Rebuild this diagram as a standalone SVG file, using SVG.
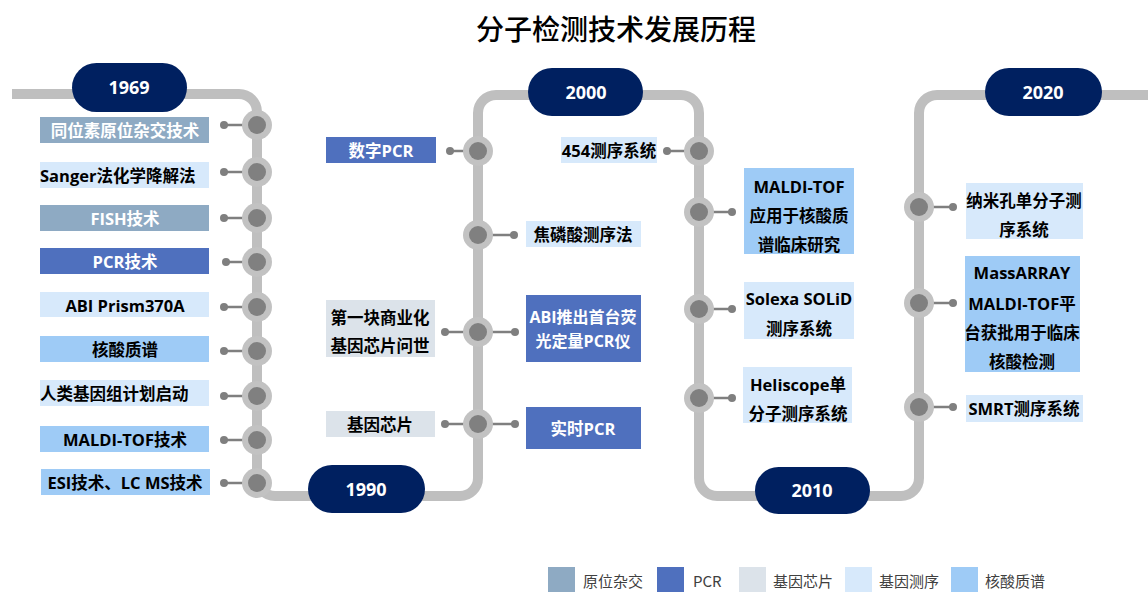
<svg xmlns="http://www.w3.org/2000/svg" width="1148" height="592" viewBox="0 0 1148 592">
<style>
.track{fill:none;stroke:#bfbfbf;stroke-width:10}
.ring{fill:#c2c2c2}
.hub{fill:#808080}
.link{stroke:#7f7f7f;stroke-width:2.5}
.dot{fill:#7f7f7f}
.pill{fill:#002060}
.yr{fill:#fff;font-family:"Open Sans","Noto Sans CJK SC",sans-serif;font-weight:bold;font-size:18px;text-anchor:middle;dominant-baseline:central}
.lbl{font-family:"Open Sans","Noto Sans CJK SC",sans-serif;font-weight:bold;font-size:16.5px;text-anchor:middle;dominant-baseline:central}
.tight{font-size:16px}
.st{text-anchor:start}
.w{fill:#fff}.k{fill:#000}
.c1{fill:#8eaac3}.c2{fill:#4f70be}.c3{fill:#dce3ea}.c4{fill:#d7e9fb}.c5{fill:#9ecbf6}
.leg{font-family:"Noto Sans CJK SC","Noto Sans",sans-serif;font-size:15px;fill:#404040;dominant-baseline:central}
.title{font-family:"Noto Sans CJK SC",sans-serif;font-weight:500;font-size:28px;text-anchor:middle;fill:#000}
</style>
<rect width="1148" height="592" fill="#fff"/>
<text class="title" x="616" y="40">分子检测技术发展历程</text>

<g id="track">
<path class="track" d="M12,94 H239 A18,18 0 0 1 257,112 V478 A18,18 0 0 0 275,496 H460 A18,18 0 0 0 478,478 V113 A18,18 0 0 1 496,95 H681 A18,18 0 0 1 699,113 V478 A18,18 0 0 0 717,496 H901 A18,18 0 0 0 919,478 V113 A18,18 0 0 1 937,95 H1148"/>
</g>

<g id="connectors">
<line class="link" x1="224" y1="125" x2="257" y2="125"/><circle class="dot" cx="224" cy="125" r="4"/>
<line class="link" x1="224" y1="172" x2="257" y2="172"/><circle class="dot" cx="224" cy="172" r="4"/>
<line class="link" x1="224" y1="218" x2="257" y2="218"/><circle class="dot" cx="224" cy="218" r="4"/>
<line class="link" x1="226" y1="262" x2="257" y2="262"/><circle class="dot" cx="226" cy="262" r="4"/>
<line class="link" x1="224" y1="307" x2="257" y2="307"/><circle class="dot" cx="224" cy="307" r="4"/>
<line class="link" x1="224" y1="351" x2="257" y2="351"/><circle class="dot" cx="224" cy="351" r="4"/>
<line class="link" x1="224" y1="396" x2="257" y2="396"/><circle class="dot" cx="224" cy="396" r="4"/>
<line class="link" x1="224" y1="440" x2="257" y2="440"/><circle class="dot" cx="224" cy="440" r="4"/>
<line class="link" x1="224" y1="483" x2="257" y2="483"/><circle class="dot" cx="224" cy="483" r="4"/>
<line class="link" x1="450" y1="151" x2="478" y2="151"/><circle class="dot" cx="450" cy="151" r="4"/>
<line class="link" x1="478" y1="235" x2="514" y2="235"/><circle class="dot" cx="514" cy="235" r="4"/>
<line class="link" x1="445" y1="332" x2="515" y2="332"/><circle class="dot" cx="445" cy="332" r="4"/><circle class="dot" cx="515" cy="332" r="4"/>
<line class="link" x1="445" y1="424" x2="515" y2="424"/><circle class="dot" cx="445" cy="424" r="4"/><circle class="dot" cx="515" cy="424" r="4"/>
<line class="link" x1="667" y1="151" x2="699" y2="151"/><circle class="dot" cx="667" cy="151" r="4"/>
<line class="link" x1="699" y1="212" x2="732" y2="212"/><circle class="dot" cx="732" cy="212" r="4"/>
<line class="link" x1="699" y1="309" x2="732" y2="309"/><circle class="dot" cx="732" cy="309" r="4"/>
<line class="link" x1="699" y1="398" x2="732" y2="398"/><circle class="dot" cx="732" cy="398" r="4"/>
<line class="link" x1="919" y1="207" x2="953" y2="207"/><circle class="dot" cx="953" cy="207" r="4"/>
<line class="link" x1="919" y1="303" x2="953" y2="303"/><circle class="dot" cx="953" cy="303" r="4"/>
<line class="link" x1="919" y1="407" x2="953" y2="407"/><circle class="dot" cx="953" cy="407" r="4"/>
</g>

<g id="stations">
<circle class="ring" cx="257" cy="125" r="15"/><circle class="hub" cx="257" cy="125" r="9"/>
<circle class="ring" cx="257" cy="172" r="15"/><circle class="hub" cx="257" cy="172" r="9"/>
<circle class="ring" cx="257" cy="218" r="15"/><circle class="hub" cx="257" cy="218" r="9"/>
<circle class="ring" cx="257" cy="262" r="15"/><circle class="hub" cx="257" cy="262" r="9"/>
<circle class="ring" cx="257" cy="307" r="15"/><circle class="hub" cx="257" cy="307" r="9"/>
<circle class="ring" cx="257" cy="351" r="15"/><circle class="hub" cx="257" cy="351" r="9"/>
<circle class="ring" cx="257" cy="396" r="15"/><circle class="hub" cx="257" cy="396" r="9"/>
<circle class="ring" cx="257" cy="440" r="15"/><circle class="hub" cx="257" cy="440" r="9"/>
<circle class="ring" cx="257" cy="483" r="15"/><circle class="hub" cx="257" cy="483" r="9"/>
<circle class="ring" cx="478" cy="151" r="15"/><circle class="hub" cx="478" cy="151" r="9"/>
<circle class="ring" cx="478" cy="235" r="15"/><circle class="hub" cx="478" cy="235" r="9"/>
<circle class="ring" cx="478" cy="332" r="15"/><circle class="hub" cx="478" cy="332" r="9"/>
<circle class="ring" cx="478" cy="424" r="15"/><circle class="hub" cx="478" cy="424" r="9"/>
<circle class="ring" cx="699" cy="151" r="15"/><circle class="hub" cx="699" cy="151" r="9"/>
<circle class="ring" cx="699" cy="212" r="15"/><circle class="hub" cx="699" cy="212" r="9"/>
<circle class="ring" cx="699" cy="309" r="15"/><circle class="hub" cx="699" cy="309" r="9"/>
<circle class="ring" cx="699" cy="398" r="15"/><circle class="hub" cx="699" cy="398" r="9"/>
<circle class="ring" cx="919" cy="207" r="15"/><circle class="hub" cx="919" cy="207" r="9"/>
<circle class="ring" cx="919" cy="303" r="15"/><circle class="hub" cx="919" cy="303" r="9"/>
<circle class="ring" cx="919" cy="407" r="15"/><circle class="hub" cx="919" cy="407" r="9"/>
</g>

<g id="y1969"><rect class="pill" x="72" y="63" width="115" height="49" rx="24.5"/><text class="yr" x="129" y="87">1969</text></g>
<g id="y1990"><rect class="pill" x="308" y="465" width="117" height="48" rx="24"/><text class="yr" x="366" y="489">1990</text></g>
<g id="y2000"><rect class="pill" x="528" y="68" width="115" height="48" rx="24"/><text class="yr" x="586" y="92">2000</text></g>
<g id="y2010"><rect class="pill" x="755" y="467" width="115" height="47" rx="23.5"/><text class="yr" x="812" y="490">2010</text></g>
<g id="y2020"><rect class="pill" x="985" y="68" width="117" height="48" rx="24"/><text class="yr" x="1043" y="92">2020</text></g>

<g id="n-isotope"><rect class="c1" x="40" y="117" width="169" height="26"/><text class="lbl w" x="125" y="130">同位素原位杂交技术</text></g>
<g id="n-sanger"><rect class="c4" x="40" y="162" width="169" height="26"/><text class="lbl k st" x="40" y="175">Sanger法化学降解法</text></g>
<g id="n-fish"><rect class="c1" x="40" y="205" width="169" height="26"/><text class="lbl w" x="125" y="218">FISH技术</text></g>
<g id="n-pcr"><rect class="c2" x="40" y="248" width="169" height="26"/><text class="lbl w" x="125" y="261">PCR技术</text></g>
<g id="n-abi370"><rect class="c4" x="40" y="292" width="169" height="25"/><text class="lbl k" x="125" y="305">ABI Prism370A</text></g>
<g id="n-ms"><rect class="c5" x="40" y="336" width="169" height="26"/><text class="lbl k" x="125" y="349">核酸质谱</text></g>
<g id="n-hgp"><rect class="c4" x="40" y="380" width="169" height="26"/><text class="lbl k st" x="40" y="393">人类基因组计划启动</text></g>
<g id="n-maldi"><rect class="c5" x="40" y="426" width="169" height="26"/><text class="lbl k" x="125" y="439">MALDI-TOF技术</text></g>
<g id="n-esi"><rect class="c5" x="41" y="469" width="169" height="26"/><text class="lbl k" x="125" y="482">ESI技术、LC MS技术</text></g>

<g id="n-dpcr"><rect class="c2" x="326" y="137" width="110" height="26"/><text class="lbl w" x="381" y="150">数字PCR</text></g>
<g id="n-pyro"><rect class="c4" x="526" y="221" width="115" height="26"/><text class="lbl k" x="583" y="234">焦磷酸测序法</text></g>
<g id="n-chip1"><rect class="c3" x="326" y="300" width="109" height="57"/><text class="lbl k" x="380" y="317">第一块商业化</text><text class="lbl k" x="380" y="345">基因芯片问世</text></g>
<g id="n-qpcr"><rect class="c2" x="526" y="295" width="115" height="67"/><text class="lbl tight w" x="583" y="317">ABI推出首台荧</text><text class="lbl tight w" x="583" y="341">光定量PCR仪</text></g>
<g id="n-chip"><rect class="c3" x="326" y="411" width="109" height="26"/><text class="lbl k" x="380" y="424">基因芯片</text></g>
<g id="n-rtpcr"><rect class="c2" x="526" y="407" width="115" height="42"/><text class="lbl w" x="583" y="428">实时PCR</text></g>

<g id="n-454"><rect class="c4" x="561" y="137" width="96" height="26"/><text class="lbl k" x="609" y="150">454测序系统</text></g>
<g id="n-maldi-clin"><rect class="c5" x="744" y="168" width="110" height="86"/><text class="lbl k" x="799" y="186">MALDI-TOF</text><text class="lbl k" x="799" y="215">应用于核酸质</text><text class="lbl k" x="799" y="244">谱临床研究</text></g>
<g id="n-solexa"><rect class="c4" x="744" y="282" width="110" height="57"/><text class="lbl k" x="799" y="298">Solexa SOLiD</text><text class="lbl k" x="799" y="328">测序系统</text></g>
<g id="n-heli"><rect class="c4" x="743" y="367" width="109" height="56"/><text class="lbl k" x="798" y="384">Heliscope单</text><text class="lbl k" x="798" y="413">分子测序系统</text></g>

<g id="n-nano"><rect class="c4" x="966" y="183" width="117" height="56"/><text class="lbl k" x="1024" y="200">纳米孔单分子测</text><text class="lbl k" x="1024" y="229">序系统</text></g>
<g id="n-massarray"><rect class="c5" x="965" y="256" width="115" height="116"/><text class="lbl k" x="1022" y="272">MassARRAY</text><text class="lbl k" x="1022" y="303">MALDI-TOF平</text><text class="lbl k" x="1022" y="332">台获批用于临床</text><text class="lbl k" x="1022" y="361">核酸检测</text></g>
<g id="n-smrt"><rect class="c4" x="966" y="395" width="117" height="27"/><text class="lbl k" x="1024" y="408">SMRT测序系统</text></g>

<g id="legend">
<rect class="c1" x="548" y="567" width="27" height="25"/><text class="leg" x="583" y="580">原位杂交</text>
<rect class="c2" x="657" y="567" width="27" height="25"/><text class="leg" x="693" y="580">PCR</text>
<rect class="c3" x="739" y="567" width="27" height="25"/><text class="leg" x="773" y="580">基因芯片</text>
<rect class="c4" x="845" y="567" width="27" height="25"/><text class="leg" x="879" y="580">基因测序</text>
<rect class="c5" x="951" y="567" width="27" height="25"/><text class="leg" x="985" y="580">核酸质谱</text>
</g>
</svg>
